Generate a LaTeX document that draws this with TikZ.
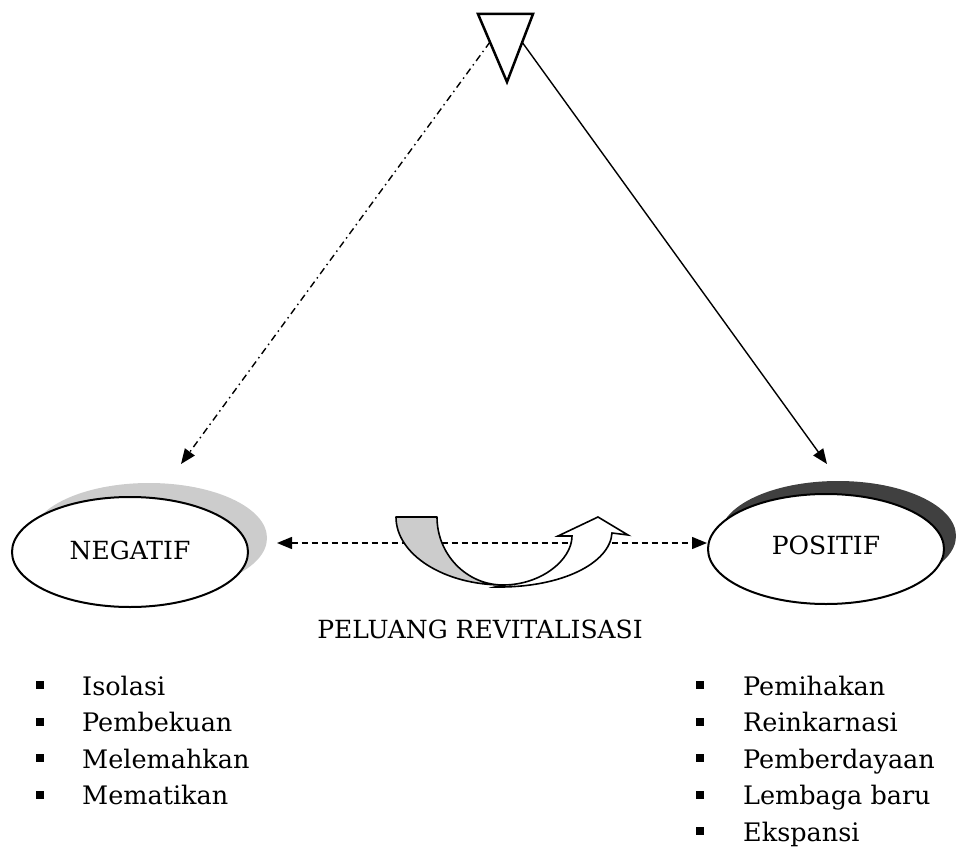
\documentclass[tikz,border=0pt]{standalone}
\usepackage{fontspec}
\setmainfont{DejaVu Serif}
\usetikzlibrary{arrows.meta,shapes.geometric}
\definecolor{shadelight}{HTML}{CCCCCC}
\definecolor{shadedark}{HTML}{404040}
\begin{document}
\begin{tikzpicture}[x=1pt,y=-1pt,
  oval/.style={ellipse,draw=black,line width=2pt,fill=white,
    minimum width=236pt,minimum height=110pt,inner sep=0pt},
  ovalshade/.style={ellipse,draw=none,minimum width=236pt,
    minimum height=110pt,inner sep=0pt},
  labeltext/.style={font=\fontsize{25}{30}\selectfont,inner sep=0pt},
  itemtext/.style={font=\fontsize{25.5}{30}\selectfont,
    anchor=base west,inner sep=0pt},
  bulletbox/.style={fill=black,minimum size=8pt,inner sep=0pt},
  link/.style={line width=1.4pt,-{Triangle[length=15pt,width=12pt]}},
  dashlink/.style={line width=1.4pt,dash pattern=on 6pt off 4pt,
    {Triangle[length=15pt,width=12pt]}-{Triangle[length=15pt,width=12pt]}},
  dotlink/.style={link,dash pattern=on 7pt off 4pt on 1.5pt off 4pt}]

\useasboundingbox (0,0) rectangle (959,848);

% source triangle at the top
\draw[line width=2.5pt,line join=miter] (478,14) -- (533,14) -- (507,82) -- cycle;
\coordinate (srcL) at (490,42);
\coordinate (srcR) at (522,42);

% the two outcome ovals with their shadows
\node[ovalshade,fill=shadelight] (negshade) at (149,538) {};
\node[oval] (neg) at (130,552) {};
\node[labeltext] at (130,550) {NEGATIF};

\node[ovalshade,fill=shadedark] (posshade) at (838,536) {};
\node[oval] (pos) at (826,549) {};
\node[labeltext] at (826,545) {POSITIF};

% connectors from the source
\coordinate (negTip) at (181,464);
\coordinate (posTip) at (827,464);
\draw[dotlink] (srcL) -- (negTip);
\draw[link] (srcR) -- (posTip);

% two-way dashed link between the ovals
\coordinate (midL) at (277,543);
\coordinate (midR) at (707,543);
\draw[dashlink] (midL) -- (midR);

% curved turning arrow: shaded back band
\draw[line width=1.6pt,fill=shadelight,line join=round]
  (396,517) -- (437,517)
  .. controls (437,554.5) and (466.6,585) .. (503,585)
  .. controls (444,585) and (396,554.5) .. (396,517) -- cycle;
% curved turning arrow: front band with head
\draw[line width=1.6pt,fill=white,line join=miter]
  (503,585) .. controls (541,585) and (572,560) .. (572,536)
  -- (558,536) -- (598,517) -- (628,535) -- (612,533)
  .. controls (610,563) and (562,588) .. (495,587)
  -- cycle;

\node[labeltext] (caption) at (480,629) {PELUANG REVITALISASI};

% negative outcomes
\foreach \t [count=\i] in {Isolasi,Pembekuan,Melemahkan,Mematikan}{
  \node[bulletbox] (nb\i) at (40,{695+36.5*(\i-1)-10}) {};
  \node[itemtext] (ni\i) at (82,{695+36.5*(\i-1)}) {\t};
}
% positive outcomes
\foreach \t [count=\i] in {Pemihakan,Reinkarnasi,Pemberdayaan,Lembaga baru,Ekspansi}{
  \node[bulletbox] (pb\i) at (700,{695+36.5*(\i-1)-10}) {};
  \node[itemtext] (pi\i) at (743,{695+36.5*(\i-1)}) {\t};
}
\end{tikzpicture}
\end{document}
